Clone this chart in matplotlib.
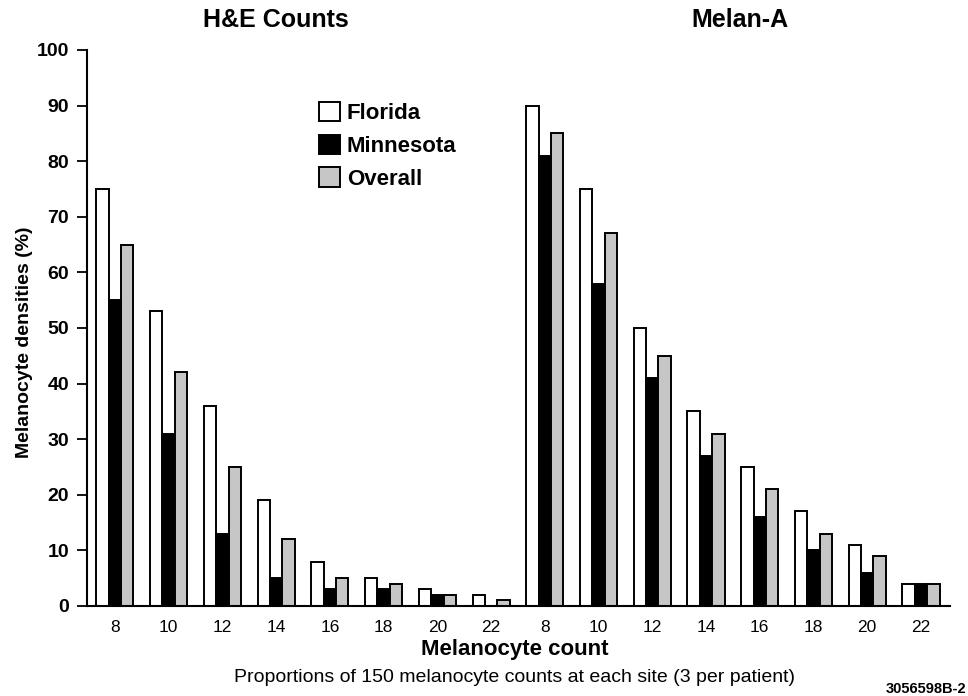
import numpy as np
import matplotlib
matplotlib.use('Agg')
import matplotlib.pyplot as plt

# datos
conteos = ['8', '10', '12', '14', '16', '18', '20', '22']
etiquetas = conteos + conteos

he_florida = [75, 53, 36, 19, 8, 5, 3, 2]
he_minnesota = [55, 31, 13, 5, 3, 3, 2, 0]
he_overall = [65, 42, 25, 12, 5, 4, 2, 1]

ma_florida = [90, 75, 50, 35, 25, 17, 11, 4]
ma_minnesota = [81, 58, 41, 27, 16, 10, 6, 4]
ma_overall = [85, 67, 45, 31, 21, 13, 9, 4]

florida = he_florida + ma_florida
minnesota = he_minnesota + ma_minnesota
overall = he_overall + ma_overall

plt.rcParams['font.family'] = ['Liberation Sans', 'DejaVu Sans']

fig = plt.figure(figsize=(9.68, 6.96), dpi=100)
ax = fig.add_axes([87 / 968, 1 - 606 / 696, (950 - 87) / 968, (606 - 50) / 696])

x = np.arange(len(etiquetas))
w = 0.23
kw = dict(edgecolor='black', linewidth=1.4)
ax.bar(x - w, florida, w, color='white', label='Florida', **kw)
ax.bar(x, minnesota, w, color='black', label='Minnesota', **kw)
ax.bar(x + w, overall, w, color='#c6c6c6', label='Overall', **kw)

ax.set_xlim(-0.52, len(etiquetas) - 1 + 0.54)
ax.set_ylim(0, 100)
ax.set_yticks(range(0, 101, 10))
ax.set_xticks(x)
ax.set_xticklabels(etiquetas, fontsize=12.5)
for t in ax.get_yticklabels():
    t.set_fontweight('bold')
    t.set_fontsize(14)

ax.spines['top'].set_visible(False)
ax.spines['right'].set_visible(False)
ax.spines['left'].set_linewidth(1.5)
ax.spines['bottom'].set_linewidth(1.5)
ax.tick_params(axis='y', direction='out', length=7, width=1.3, pad=6)
ax.tick_params(axis='x', length=0, pad=10)

ax.set_ylabel('Melanocyte densities (%)', fontsize=14, fontweight='bold')
ax.yaxis.set_label_coords(-0.0626, 0.475)

fig.text(276 / 968, 1 - 20 / 696, 'H&E Counts', ha='center', va='center', fontsize=18, fontweight='bold')
fig.text(740 / 968, 1 - 20 / 696, 'Melan-A', ha='center', va='center', fontsize=18, fontweight='bold')
fig.text(515 / 968, 1 - 649 / 696, 'Melanocyte count', ha='center', va='center', fontsize=16, fontweight='bold')
fig.text(515 / 968, 1 - 678 / 696, 'Proportions of 150 melanocyte counts at each site (3 per patient)',
         ha='center', va='center', fontsize=14)
fig.text(966 / 968, 1 - 689 / 696, '3056598B-2', ha='right', va='center', fontsize=10.5, fontweight='bold')

leg = ax.legend(loc='upper left', bbox_to_anchor=(308 / 968, 1 - 91 / 696), bbox_transform=fig.transFigure,
                frameon=False, borderpad=0, handlelength=0.95, handleheight=0.95, labelspacing=0.47,
                handletextpad=0.3, prop={'size': 16, 'weight': 'bold'})

fig.savefig('out.png', dpi=100, facecolor='white')
